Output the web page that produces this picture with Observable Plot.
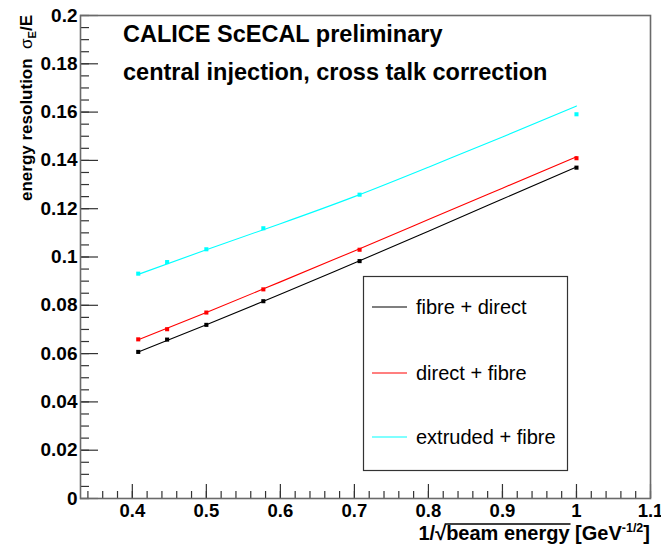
<!DOCTYPE html>
<html>
<head>
<meta charset="utf-8">
<script src="https://cdn.jsdelivr.net/npm/d3@7"></script>
<script src="https://cdn.jsdelivr.net/npm/@observablehq/plot@0.6"></script>
<style>
  html, body { margin: 0; padding: 0; background: white; }
  #chart { width: 661px; height: 548px; }
</style>
</head>
<body>
<div id="chart"></div>
<script>
// ---- data ----
const beamX = [0.408, 0.447, 0.5, 0.577, 0.707, 1.0];
const fibreDirect   = [0.0607, 0.0658, 0.0719, 0.0817, 0.0983, 0.1370];
const directFibre   = [0.0659, 0.0701, 0.0770, 0.0866, 0.1030, 0.1409];
const extrudedFibre = [0.0931, 0.0979, 0.1032, 0.1119, 0.1258, 0.1591];

const fitX = [0.408, 0.5, 0.6, 0.7, 0.8, 0.9, 1.0];
const fitFibreDirect   = [0.0607, 0.0719, 0.0846, 0.0975, 0.1107, 0.1240, 0.1373];
const fitDirectFibre   = [0.0657, 0.0770, 0.0897, 0.1025, 0.1155, 0.1285, 0.1415];
const fitExtrudedFibre = [0.0928, 0.1030, 0.1138, 0.1250, 0.1372, 0.1497, 0.1625];

const seriesNames = ["fibre + direct", "direct + fibre", "extruded + fibre"];
const seriesColors = ["#000000", "#ff0000", "#00ffff"];

const xTickLabels = [0.4, 0.5, 0.6, 0.7, 0.8, 0.9, 1, 1.1];
const yTickLabels = [0, 0.02, 0.04, 0.06, 0.08, 0.1, 0.12, 0.14, 0.16, 0.18, 0.2];
const xMinorStep = 0.02;
const yMinorStep = 0.005;

const titleLines = ["CALICE ScECAL preliminary", "central injection, cross talk correction"];

// ---- build tables ----
const pointValues = [fibreDirect, directFibre, extrudedFibre];
const fitValues = [fitFibreDirect, fitDirectFibre, fitExtrudedFibre];
const points = [];
pointValues.forEach((vals, s) => vals.forEach((v, i) => points.push({x: beamX[i], y: v, s})));
const fits = [];
fitValues.forEach((vals, s) => vals.forEach((v, i) => fits.push({x: fitX[i], y: v, s})));

const xMinor = d3.range(17, 56).map(i => +(i * xMinorStep).toFixed(3));
const yMinor = d3.range(0, 41).map(i => +(i * yMinorStep).toFixed(4));

const W = 661, H = 548, mL = 80, mR = 11, mT = 15, mB = 50;
const innerW = W - mL - mR, innerH = H - mT - mB;
const tickColor = "#333";

const chart = Plot.plot({
  width: W, height: H,
  marginLeft: mL, marginRight: mR, marginTop: mT, marginBottom: mB,
  style: {fontFamily: "'Liberation Sans', Arial, sans-serif", fontWeight: "bold", fontSize: "18px", color: "black", background: "white", overflow: "visible"},
  x: {domain: [0.33, 1.1]},
  y: {domain: [0, 0.2]},
  marks: [
    Plot.tickX(xMinor, {x: d => d, insetTop: innerH - 7, stroke: tickColor, strokeWidth: 1.2}),
    Plot.tickX(xTickLabels, {x: d => d, insetTop: innerH - 14, stroke: tickColor, strokeWidth: 1.2}),
    Plot.tickY(yMinor, {y: d => d, insetRight: innerW - 9, stroke: tickColor, strokeWidth: 1.2}),
    Plot.tickY(yTickLabels, {y: d => d, insetRight: innerW - 18, stroke: tickColor, strokeWidth: 1.2}),
    Plot.axisX({ticks: xTickLabels, tickSize: 0, tickPadding: 5, fontSize: 18.5, fontWeight: "bold", label: null, tickFormat: d => String(d)}),
    Plot.axisY({ticks: yTickLabels, tickSize: 0, tickPadding: 3, fontSize: 19, fontWeight: "bold", label: null, tickFormat: d => String(d)}),
    Plot.line(fits, {x: "x", y: "y", z: "s", stroke: d => seriesColors[d.s], strokeWidth: 1.1, curve: "natural"}),
    Plot.dot(points, {x: "x", y: "y", symbol: "square", r: 2.3, fill: d => seriesColors[d.s], stroke: "none"}),
    Plot.frame({stroke: "#6a6a6a", strokeWidth: 1.6})
  ]
});
document.getElementById("chart").appendChild(chart);

// ---- text annotations, axis titles and legend ----
const svg = d3.select(chart);
const ff = "'Liberation Sans', Arial, sans-serif";

svg.append("text").attr("x", 123).attr("y", 42).attr("text-anchor", "start")
  .attr("font-family", ff).attr("font-weight", "bold").attr("font-size", 23.5).attr("fill", "black")
  .text(titleLines[0]);
svg.append("text").attr("x", 123).attr("y", 80).attr("text-anchor", "start")
  .attr("font-family", ff).attr("font-weight", "bold").attr("font-size", 23.5).attr("fill", "black")
  .text(titleLines[1]);

// y title
const yt = svg.append("text")
  .attr("transform", "translate(32,15) rotate(-90)")
  .attr("text-anchor", "end")
  .attr("font-family", ff).attr("font-weight", "bold").attr("font-size", 17).attr("fill", "black");
yt.append("tspan").text("energy resolution  ");
yt.append("tspan").attr("font-weight", "normal").text("σ");
yt.append("tspan").attr("font-size", 11).attr("dy", 4).text("E");
yt.append("tspan").attr("dy", -4).text("/E");

// x title
const xBase = 540;
const xt = svg.append("text")
  .attr("x", 650).attr("y", xBase)
  .attr("text-anchor", "end")
  .attr("font-family", ff).attr("font-weight", "bold").attr("font-size", 20).attr("fill", "black");
xt.append("tspan").text("1/√");
xt.append("tspan").text("beam energy");
xt.append("tspan").text(" [GeV");
xt.append("tspan").attr("font-size", 12.5).attr("dy", -8).text("-1/2");
xt.append("tspan").attr("dy", 8).text("]");
// overline of the square root, measured from the rendered glyphs
try {
  const node = xt.node();
  const x0 = node.getEndPositionOfChar(2).x;
  const x1 = node.getEndPositionOfChar(13).x;
  svg.append("line").attr("x1", x0 - 1.5).attr("x2", x1 + 1).attr("y1", xBase - 16).attr("y2", xBase - 16)
    .attr("stroke", "black").attr("stroke-width", 1.4);
} catch (e) {}

// legend
const lg = svg.append("g");
lg.append("rect").attr("x", 363.5).attr("y", 276.5).attr("width", 204).attr("height", 194)
  .attr("fill", "white").attr("stroke", "#333").attr("stroke-width", 1.2);
const rowsY = [307, 373, 437];
seriesNames.forEach((name, i) => {
  lg.append("line").attr("x1", 372).attr("x2", 407).attr("y1", rowsY[i]).attr("y2", rowsY[i])
    .attr("stroke", seriesColors[i]).attr("stroke-width", 1.2);
  lg.append("text").attr("x", 416).attr("y", rowsY[i] + 7).attr("text-anchor", "start")
    .attr("font-family", ff).attr("font-size", 20).attr("font-weight", "normal").attr("fill", "black")
    .text(name);
});
</script>
</body>
</html>
